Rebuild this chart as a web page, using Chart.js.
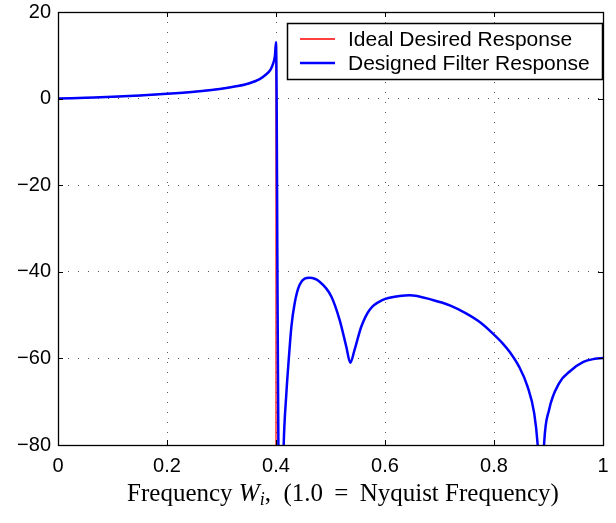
<!DOCTYPE html>
<html>
<head>
<meta charset="utf-8">
<script src="https://cdn.jsdelivr.net/npm/chart.js@4.4.1/dist/chart.umd.min.js"></script>
<style>
  html, body { margin: 0; padding: 0; background: #fff; }
  #wrap { width: 616px; height: 523px; }
</style>
</head>
<body>
<div id="wrap"><canvas id="myChart" width="616" height="523"></canvas></div>
<script>
// passband (shared by both curves)
const passFreq = [0, 0.05, 0.1, 0.15, 0.2, 0.25, 0.3, 0.33, 0.35, 0.37, 0.38, 0.39, 0.395, 0.398, 0.4];
const passMag  = [0, 0.2, 0.4, 0.7, 1.1, 1.6, 2.3, 2.9, 3.5, 4.5, 5.4, 6.7, 8.2, 9.8, 13.0];

// ideal response drops straight down at the band edge
const idealFreq = passFreq.concat([0.4]);
const idealMag  = passMag.concat([-120]);

// designed filter, transition + stopband
const stopFreq = [0.4012, 0.4026, 0.4044, 0.4092, 0.4141, 0.419, 0.4233, 0.4282, 0.4342, 0.4434, 0.4617,
  0.48, 0.5015, 0.5167, 0.529, 0.5363, 0.544, 0.5564, 0.5716, 0.596, 0.6266, 0.645, 0.6875, 0.72, 0.7487,
  0.775, 0.7975, 0.815, 0.83, 0.846, 0.8616, 0.8738, 0.8799, 0.8835, 0.8865, 0.8895, 0.892, 0.901, 0.9196,
  0.94, 0.964, 0.985, 1.0];
const stopMag  = [0, -40, -80, -110, -80, -68.1, -60.4, -52.7, -47.3, -43.0, -41.4,
  -42.3, -45.7, -51.1, -57.3, -61.0, -58.1, -52.7, -48.8, -46.5, -45.6, -45.4, -46.5, -47.8, -49.6,
  -51.7, -54.2, -56.4, -58.7, -61.9, -66.5, -72.7, -79.6, -88, -105, -88, -79.6, -71.9, -65.7,
  -62.9, -60.8, -60.1, -59.9];

const designFreq = passFreq.concat(stopFreq);
const designMag  = passMag.concat(stopMag);

const xTicks = [0, 0.2, 0.4, 0.6, 0.8, 1];
const xTickLabels = ['0', '0.2', '0.4', '0.6', '0.8', '1'];
const yTicks = [-80, -60, -40, -20, 0, 20];
const yTickLabels = ['\u221280', '\u221260', '\u221240', '\u221220', '0', '20'];

const seriesLabels = ['Ideal Desired Response', 'Designed Filter Response'];

const toPts = (xs, ys) => xs.map((v, i) => ({x: v, y: ys[i]}));

const sansFont = '"Liberation Sans", Arial, sans-serif';
const serifFont = '"Liberation Serif", "Times New Roman", serif';

const boxPlugin = {
  id: 'box',
  afterDatasetsDraw(chart) {
    const {ctx, chartArea: a, scales: {x, y}} = chart;
    ctx.save();
    ctx.strokeStyle = '#000';
    ctx.lineWidth = 1;
    ctx.beginPath();
    xTicks.forEach(v => {
      const px = Math.round(x.getPixelForValue(v)) + 0.5;
      ctx.moveTo(px, a.bottom); ctx.lineTo(px, a.bottom - 5);
      ctx.moveTo(px, a.top); ctx.lineTo(px, a.top + 5);
    });
    yTicks.forEach(v => {
      const py = Math.round(y.getPixelForValue(v)) + 0.5;
      ctx.moveTo(a.left, py); ctx.lineTo(a.left + 5, py);
      ctx.moveTo(a.right, py); ctx.lineTo(a.right - 5, py);
    });
    ctx.stroke();
    ctx.lineWidth = 1.3;
    ctx.strokeRect(Math.round(a.left) + 0.5, Math.round(a.top) + 0.5,
      Math.round(a.right - a.left), Math.round(a.bottom - a.top));

    // legend box
    const lx = 287, ly = 23, lw = 315, lh = 56;
    ctx.fillStyle = '#fff';
    ctx.fillRect(lx, ly, lw, lh);
    ctx.lineWidth = 1.5;
    ctx.strokeRect(lx + 0.5, ly + 0.5, lw, lh);
    ctx.font = '21px ' + sansFont;
    ctx.textBaseline = 'middle';
    ctx.textAlign = 'left';
    chart.data.datasets.forEach((ds, i) => {
      const cy = ly + 16 + i * 24;
      ctx.strokeStyle = ds.borderColor;
      ctx.lineWidth = Math.max(1.6, ds.borderWidth);
      ctx.beginPath();
      ctx.moveTo(300, cy); ctx.lineTo(335, cy);
      ctx.stroke();
      ctx.fillStyle = '#000';
      ctx.fillText(ds.label, 348, cy + 1);
    });

    // x axis title with italic W_i
    const parts = [
      {t: 'Frequency ', f: '25px ' + serifFont, dy: 0},
      {t: 'W', f: 'italic 25px ' + serifFont, dy: 0},
      {t: 'i', f: 'italic 18px ' + serifFont, dy: 4},
      {t: ',  (1.0 \u2009=\u2009 Nyquist Frequency)', f: '25px ' + serifFont, dy: 0}
    ];
    let total = 0;
    parts.forEach(p => { ctx.font = p.f; p.w = ctx.measureText(p.t).width; total += p.w; });
    let cx = 343 - total / 2;
    ctx.textBaseline = 'alphabetic';
    ctx.fillStyle = '#000';
    parts.forEach(p => {
      ctx.font = p.f;
      ctx.fillText(p.t, cx, 501 + p.dy);
      cx += p.w;
    });
    ctx.restore();
  }
};

const gridOpts = { color: '#5a5a5a', lineWidth: 1, drawTicks: false };
const borderOpts = { display: false, dash: [1, 9] };

const ctx = document.getElementById('myChart').getContext('2d');
const myChart = new Chart(ctx, {
  type: 'line',
  data: {
    datasets: [{
      label: seriesLabels[0],
      data: toPts(idealFreq, idealMag),
      borderColor: '#ff0000',
      borderWidth: 1.2,
      pointRadius: 0,
      tension: 0,
      order: 1
    }, {
      label: seriesLabels[1],
      data: toPts(designFreq, designMag),
      borderColor: '#0000ff',
      borderWidth: 2.5,
      pointRadius: 0,
      cubicInterpolationMode: 'monotone',
      order: 0
    }]
  },
  options: {
    responsive: false,
    animation: false,
    layout: { padding: { left: 0, right: 13, top: 12, bottom: 0 } },
    plugins: { legend: { display: false }, tooltip: { enabled: false } },
    scales: {
      x: {
        type: 'linear',
        min: 0, max: 1,
        afterBuildTicks: s => { s.ticks = xTicks.map(v => ({value: v})); },
        afterFit: s => { s.height = 78; s.paddingLeft = 0; s.paddingRight = 0; },
        border: borderOpts,
        grid: gridOpts,
        ticks: {
          padding: 9,
          color: '#000',
          font: { size: 20, family: sansFont },
          callback: (v) => xTickLabels[xTicks.indexOf(v)]
        }
      },
      y: {
        min: -80, max: 20,
        afterBuildTicks: s => { s.ticks = yTicks.map(v => ({value: v})); },
        afterFit: s => { s.width = 58; s.paddingTop = 0; s.paddingBottom = 0; },
        border: borderOpts,
        grid: gridOpts,
        ticks: {
          padding: 7,
          color: '#000',
          font: { size: 20, family: sansFont },
          callback: (v) => yTickLabels[yTicks.indexOf(v)]
        }
      }
    }
  },
  plugins: [boxPlugin]
});
console.log(myChart);
</script>
</body>
</html>
